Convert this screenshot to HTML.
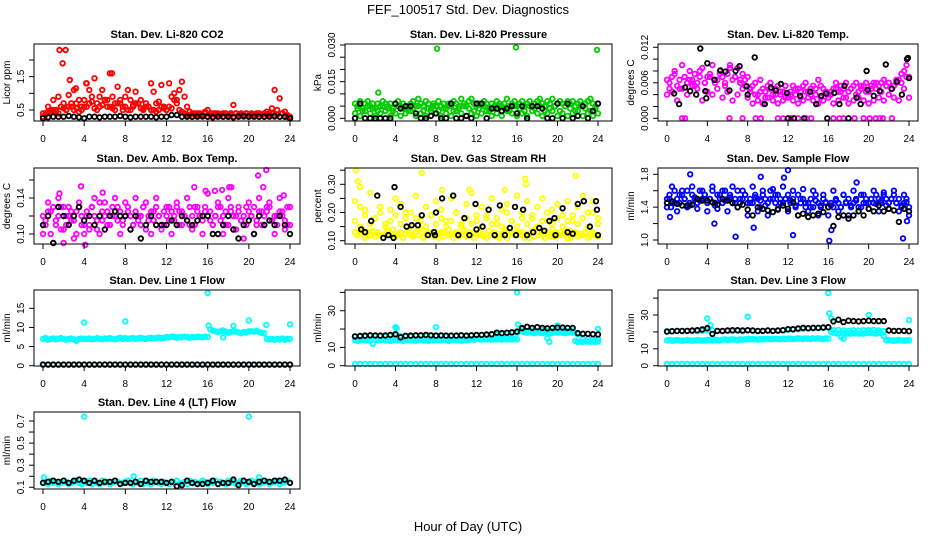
<!DOCTYPE html>
<html><head><meta charset="utf-8"><style>
html,body{margin:0;padding:0;background:#fff;}
svg{display:block;font-family:"Liberation Sans",sans-serif;}
</style></head><body>
<svg id="chart" width="936" height="540" viewBox="0 0 936 540" xmlns="http://www.w3.org/2000/svg">
<rect x="0" y="0" width="936" height="540" fill="#fff"/>
<text x="468" y="14" text-anchor="middle" font-size="13">FEF_100517  Std. Dev. Diagnostics</text>
<text x="468" y="531" text-anchor="middle" font-size="13">Hour of Day (UTC)</text>
</svg>
<script>
const hoursQ=[0,0.25,0.5,0.75,1,1.25,1.5,1.75,2,2.25,2.5,2.75,3,3.25,3.5,3.75,4,4.25,4.5,4.75,5,5.25,5.5,5.75,6,6.25,6.5,6.75,7,7.25,7.5,7.75,8,8.25,8.5,8.75,9,9.25,9.5,9.75,10,10.25,10.5,10.75,11,11.25,11.5,11.75,12,12.25,12.5,12.75,13,13.25,13.5,13.75,14,14.25,14.5,14.75,15,15.25,15.5,15.75,16,16.25,16.5,16.75,17,17.25,17.5,17.75,18,18.25,18.5,18.75,19,19.25,19.5,19.75,20,20.25,20.5,20.75,21,21.25,21.5,21.75,22,22.25,22.5,22.75,23,23.25,23.5,23.75,24];
const hoursH=[0,0.5,1,1.5,2,2.5,3,3.5,4,4.5,5,5.5,6,6.5,7,7.5,8,8.5,9,9.5,10,10.5,11,11.5,12,12.5,13,13.5,14,14.5,15,15.5,16,16.5,17,17.5,18,18.5,19,19.5,20,20.5,21,21.5,22,22.5,23,23.5,24];
const hoursO=[0.25,0.75,1.25,1.75,2.25,2.75,3.25,3.75,4.25,4.75,5.25,5.75,6.25,6.75,7.25,7.75,8.25,8.75,9.25,9.75,10.25,10.75,11.25,11.75,12.25,12.75,13.25,13.75,14.25,14.75,15.25,15.75,16.25,16.75,17.25,17.75,18.25,18.75,19.25,19.75,20.25,20.75,21.25,21.75,22.25,22.75,23.25,23.75];
const xTicks=[0,4,8,12,16,20,24];

// Panel 1 CO2
const co2A=[0.4,0.35,0.6,0.45,0.8,0.5,0.9,0.6,0.7,0.5,0.95,0.6,1.1,0.7,0.8,0.6,0.8, 1.3,1.1,0.9,1.45,0.7,0.9,1.1,0.8,0.6,1.6,0.9,0.7,1.2,0.8,0.5,0.9, 1.1,0.8,0.6,1.05,0.7,0.8,0.5,0.7,0.6,1.3,1.05,0.7,0.5,1.25,0.6,0.5, 1.3,0.9,1.0,0.8,1.1,1.35,0.9,0.6,0.45,0.4,0.35,0.4,0.4,0.35,0.45,0.5, 0.35,0.4,0.35,0.4,0.35,0.4,0.4,0.35,0.4,0.65,0.4,0.35,0.4,0.35,0.4,0.35, 0.4,0.35,0.35,0.4,0.35,0.4,0.35,0.4,0.55,1.1,0.5,0.85,0.4,0.45,0.35,0.3];
const co2B=[0.3,0.45,0.5,0.4,0.55,0.6,0.5,0.45,0.6, 0.7,0.55,0.6,0.8,0.6,0.5,0.7,0.6, 0.5,0.7,0.55,0.6,0.5,0.45,0.6,0.5, 0.55,0.7,0.45,0.35,0.3,0.35,0.3,0.3, 0.3,0.35,0.3,0.3,0.3,0.35,0.3,0.3, 0.35,0.3,0.3,0.35,0.3,0.3,0.3,0.25];
const co2C=[0.4,0.5,0.45,0.6,0.5,0.7,0.55,0.5, 0.6,0.75,0.5,0.65,0.8,0.55,0.7,0.6, 0.5,0.65,0.7,0.55,0.6,0.5,0.75,0.55, 0.6,0.8,0.5,0.4,0.35,0.4,0.35,0.4, 0.35,0.4,0.35,0.4,0.35,0.4,0.35,0.4, 0.35,0.4,0.35,0.45,0.4,0.35,0.4,0.3];
const co2OutX=[1.6,2.2,1.9,2.6,6.7,3.2,4.2];
const co2OutY=[2.3,2.3,1.9,1.4,1.6,1.15,1.3];
const co2K=[0.25,0.28,0.3,0.3,0.3,0.32,0.3,0.28,0.25, 0.3,0.3,0.28,0.3,0.3,0.3,0.32,0.3, 0.28,0.3,0.3,0.3,0.3,0.28,0.3,0.3, 0.35,0.35,0.3,0.3,0.3,0.3,0.32,0.3, 0.28,0.3,0.3,0.3,0.28,0.3,0.32,0.3, 0.3,0.3,0.3,0.3,0.32,0.3,0.3,0.25];

// Panel 2 Pressure
const presA=[.006,.005,.007,.004,.006,.007,.005,.006,.004,.006,.005,.007,.006,.005,.006,.004,.006, .007,.005,.006,.004,.005,.006,.007,.005,.008,.006,.005,.007,.006,.004,.006,.005, .007,.005,.006,.004,.006,.005,.007,.006,.005,.008,.006,.005,.007,.008,.006,.005, .006,.005,.007,.006,.004,.006,.005,.007,.006,.005,.006,.008,.005,.006,.007,.005, .006,.007,.005,.006,.007,.005,.006,.007,.008,.006,.005,.007,.006,.008,.005,.006, .007,.006,.005,.007,.006,.007,.005,.006,.007,.005,.006,.007,.008,.006,.005,.006];
const presB=[.002,.001,.003,.002,.001,.002,.003,.001,.002, .001,.002,.003,.001,.002,.001,.003,.002, .001,.002,.001,.003,.002,.001,.002,.001, .002,.003,.001,.002,.001,.003,.002,.001, .002,.001,.003,.002,.001,.002,.003,.001, .002,.001,.002,.003,.001,.002,.001,.002];
const presC=[.004,.003,.005,.004,.003,.005,.004,.003, .005,.004,.003,.004,.005,.003,.004,.005, .003,.004,.005,.003,.004,.005,.004,.003, .004,.005,.003,.004,.005,.004,.003,.005, .004,.003,.005,.004,.005,.003,.004,.005, .003,.005,.004,.003,.005,.004,.003,.004];
const presOutX=[2.3,8.1,15.9,23.9];
const presOutY=[0.0105,0.0285,0.029,0.028];
const presK=[.000,.006,.000,.000,.000,.000,.000,.000,.006, .004,.005,.005,.002,.000,.000,.001,.002, .000,.000,.006,.000,.000,.001,.000,.006, .006,.000,.004,.004,.003,.004,.005,.002, .005,.000,.005,.005,.004,.000,.000,.006, .000,.006,.000,.001,.005,.000,.003,.006];

// Panel 3 Li-820 Temp
const tempA=[.0065,.005,.007,.008,.0055,.0065,.009,.007,.006,.008,.0065,.0075,.006,.007,.0085,.006,.007, .0075,.009,.006,.0065,.008,.007,.0055,.0075,.009,.0065,.007,.0085,.006,.0075,.0065,.007, .0045,.0055,.006,.004,.0065,.005,.0045,.0055,.006,.004,.005,.0055,.004,.0045,.0055,.004, .0045,.0055,.004,.005,.0045,.0055,.006,.0045,.005,.0055,.004,.0065,.0055,.005,.0045,.004, .0045,.005,.006,.0045,.0055,.005,.006,.0045,.005,.0055,.006,.0045,.005,.0055,.006,.0045, .0055,.006,.005,.0055,.006,.0065,.0055,.006,.005,.0055,.006,.0065,.0075,.008,.009,.007];
const tempB=[.004,.0045,.003,.005,.004,.0055,.005,.003,.0045, .004,.005,.0035,.0045,.003,.004,.005,.0035, .0025,.003,.0025,.0035,.003,.0025,.003,.0035, .003,.0025,.003,.0035,.003,.0025,.003,.0035, .0025,.003,.0035,.0025,.003,.0035,.003,.0025, .003,.0035,.003,.004,.0035,.003,.005,.0035];
const tempC=[.006,.0075,.005,.007,.0065,.0055,.008,.006, .007,.0065,.0075,.006,.0085,.007,.0065,.0055, .005,.004,.0045,.0035,.005,.004,.0045,.0035, .004,.005,.0035,.0045,.004,.005,.0035,.0045, .004,.005,.0045,.0035,.005,.004,.0055,.0045, .005,.006,.0045,.0055,.005,.0065,.006,.007];
const tempZeroX=[1.5,1.8,6.2,7.5,8.8,9.3,11,11.5,12.3,13,13.8,14.3,16.5,17.1,17.5,18.6,19.5,20.1,20.7,21.1,21.4,22.3];
const tempZeroY=[0,0,0,0,0,0,0,0,0,0,0,0,0,0,0,0,0,0,0,0,0,0];
const tempKX=[0.7,1.2,1.8,2.3,2.9,3.3,3.8,3.9,4.0,4.7,5.3,5.8,6.2,6.8,7.2,7.9,8.0,8.7,9.7,10.3,10.8,11.3,11.9,12.0,12.6,13.2,13.6,14.2,14.8,15.3,15.8,15.9,16.6,17.1,17.6,18.0,18.8,19.2,19.8,19.9,20.5,21.1,21.7,22.3,22.8,23.3,23.8,23.9,24.0];
const tempKY=[.0042,.0024,.0052,.0046,.0040,.0118,.0046,.0034,.0093,.0065,.0081,.0079,.0047,.0080,.0088,.0054,.0040,.0103,.0024,.0052,.0047,.0058,.0043,.0000,.0000,.0038,.0000,.0045,.0024,.0038,.0042,.0000,.0043,.0024,.0055,.0000,.0035,.0024,.0080,.0048,.0038,.0046,.0091,.0050,.0062,.0040,.0100,.0102,.0068];

// Panel 4 Amb box temp
const ambA=[.12,.11,.125,.10,.13,.115,.12,.105,.13,.11,.12,.125,.115,.10,.13,.12,.11, .125,.11,.13,.12,.105,.135,.115,.12,.125,.11,.13,.12,.115,.125,.11,.12, .13,.12,.11,.125,.115,.12,.13,.105,.12,.125,.115,.13,.12,.11,.125,.12, .115,.125,.12,.13,.11,.125,.12,.115,.13,.12,.11,.125,.12,.115,.13,.12, .125,.11,.12,.13,.115,.12,.125,.11,.13,.12,.105,.125,.115,.12,.11,.125, .12,.13,.115,.125,.11,.12,.125,.13,.115,.12,.11,.125,.12,.115,.13,.11];
const ambB=[.10,.135,.09,.14,.105,.13,.095,.135,.10, .105,.14,.10,.135,.11,.14,.10,.135, .105,.14,.11,.135,.10,.14,.105,.13, .10,.135,.11,.14,.105,.13,.10,.145, .11,.135,.10,.14,.105,.13,.095,.135, .10,.14,.11,.135,.10,.14,.105,.13];
const ambC=[.115,.125,.11,.13,.12,.115,.125,.11, .12,.13,.115,.125,.11,.12,.13,.115, .125,.11,.12,.13,.115,.125,.12,.11, .13,.115,.125,.12,.11,.13,.12,.125, .115,.12,.13,.11,.125,.12,.115,.13, .12,.11,.125,.13,.115,.12,.125,.11];
const ambOutX=[1.6,3.7,5.8,14.7,15.8,16.7,17.4,18.1,18.3,20.9,21.4,21.7,23.4,2.0,4.1];
const ambOutY=[.145,.153,.146,.152,.148,.148,.149,.152,.152,.165,.152,.171,.143,.09,.088];
const ambK=[.11,.12,.09,.13,.12,.11,.12,.13,.115, .12,.11,.12,.105,.12,.125,.12,.12, .105,.12,.095,.11,.12,.11,.11,.11, .115,.11,.12,.115,.11,.115,.12,.12, .10,.10,.11,.12,.105,.095,.11,.115, .10,.12,.11,.115,.11,.12,.11,.10];

// Panel 5 RH
const rhA=[.13,.12,.125,.14,.11,.13,.12,.135,.115,.13,.12,.11,.125,.13,.12,.14,.115, .12,.13,.11,.125,.135,.12,.115,.13,.12,.14,.11,.125,.13,.12,.115,.13, .12,.13,.115,.125,.14,.12,.11,.13,.125,.12,.135,.115,.13,.12,.11,.125, .13,.12,.125,.11,.135,.12,.13,.115,.125,.12,.14,.11,.13,.125,.12,.13, .12,.13,.11,.125,.12,.135,.115,.13,.12,.125,.11,.13,.12,.14,.115,.12, .13,.12,.125,.11,.135,.12,.13,.115,.125,.12,.13,.11,.125,.13,.12,.115];
const rhB=[.24,.22,.19,.27,.18,.22,.16,.21,.25, .23,.18,.2,.26,.17,.22,.19,.24, .21,.17,.25,.2,.16,.23,.27,.19, .22,.18,.25,.16,.21,.23,.17,.26, .2,.24,.18,.22,.25,.17,.21,.23, .19,.24,.17,.22,.26,.2,.24,.18];
const rhC=[.17,.15,.21,.16,.18,.2,.15,.17,.19, .16,.2,.15,.18,.17,.15,.19,.16, .18,.15,.17,.2,.15,.18,.16,.17, .15,.19,.16,.18,.15,.2,.17,.15, .18,.16,.19,.15,.17,.2,.16,.18, .15,.17,.19,.16,.18,.15,.2,.16];
const rhD=[.12,.14,.115,.13,.12,.11,.135,.12, .125,.11,.13,.12,.14,.115,.125,.12, .11,.13,.12,.125,.115,.14,.12,.13, .12,.115,.135,.12,.11,.13,.125,.12, .13,.12,.11,.14,.12,.125,.115,.13, .12,.135,.11,.125,.12,.13,.115,.12];
const rhOutX=[0.1,0.3,0.5,6.6,16.8,16.9,21.8,14.8,8.6,11.3];
const rhOutY=[.35,.31,.29,.34,.32,.30,.33,.28,.28,.28];
const rhKX=[0.6,1.0,1.6,2.2,2.8,3.3,3.8,3.9,4.5,5.1,5.6,6.2,6.6,7.2,7.8,7.9,8.0,8.6,9.7,10.2,10.8,11.3,11.9,12.0,12.6,13.2,13.8,14.3,14.8,15.3,15.8,15.9,16.6,17.0,17.6,18.2,18.7,19.2,19.7,19.8,20.5,21.0,21.5,22.0,22.6,23.2,23.8,23.9,24.0];
const rhKY=[.14,.13,.17,.26,.11,.12,.11,.29,.22,.15,.155,.155,.19,.12,.13,.12,.20,.25,.26,.12,.18,.12,.23,.14,.15,.21,.12,.225,.12,.145,.22,.12,.21,.12,.13,.145,.135,.17,.18,.12,.215,.13,.125,.23,.24,.15,.24,.21,.12];

// Panel 6 Sample flow
const sfA=[1.5,1.55,1.45,1.6,1.5,1.45,1.55,1.5,1.6,1.45,1.55,1.5,1.45,1.6,1.5,1.55,1.45, 1.5,1.6,1.45,1.55,1.5,1.45,1.6,1.5,1.55,1.45,1.5,1.6,1.45,1.5,1.55,1.45, 1.5,1.45,1.55,1.5,1.4,1.55,1.5,1.45,1.6,1.5,1.45,1.55,1.5,1.45,1.5,1.55, 1.45,1.5,1.4,1.55,1.45,1.5,1.4,1.45,1.5,1.4,1.55,1.45,1.4,1.5,1.45,1.4, 1.45,1.4,1.5,1.45,1.4,1.55,1.45,1.5,1.4,1.45,1.5,1.4,1.55,1.45,1.5,1.45, 1.5,1.45,1.55,1.5,1.45,1.55,1.5,1.45,1.5,1.55,1.45,1.5,1.4,1.45,1.5,1.4];
const sfB=[1.4,1.65,1.35,1.6,1.4,1.65,1.38,1.6,1.35, 1.65,1.38,1.6,1.35,1.65,1.4,1.6,1.3, 1.65,1.35,1.6,1.3,1.62,1.38,1.65,1.35, 1.6,1.3,1.62,1.35,1.6,1.3,1.55,1.3, 1.6,1.35,1.55,1.3,1.6,1.35,1.55,1.38, 1.6,1.35,1.58,1.38,1.6,1.35,1.55,1.3];
const sfC=[1.5,1.45,1.55,1.5,1.42,1.52,1.48,1.55, 1.5,1.42,1.55,1.48,1.52,1.45,1.5,1.55, 1.45,1.52,1.48,1.42,1.5,1.55,1.45,1.5, 1.48,1.42,1.5,1.45,1.4,1.48,1.42,1.46, 1.42,1.48,1.4,1.46,1.42,1.48,1.4,1.45, 1.5,1.44,1.48,1.42,1.5,1.45,1.42,1.46];
const sfOutX=[0.3,0.4,2.3,4.7,6.8,8.6,9.3,12.0,12.5,16.1,16.3,18.8,23.4,23.8,11.6];
const sfOutY=[1.28,1.4,1.8,1.2,1.04,1.15,1.77,1.85,1.06,0.99,1.12,1.7,1.02,1.23,1.76];
const sfK=[1.45,1.47,1.44,1.42,1.42,1.43,1.5,1.48,1.48, 1.46,1.43,1.5,1.48,1.45,1.4,1.43,1.37, 1.3,1.4,1.38,1.36,1.34,1.37,1.42,1.38, 1.46,1.3,1.32,1.28,1.3,1.32,1.34,1.4, 1.17,1.28,1.3,1.26,1.3,1.35,1.3,1.38, 1.35,1.42,1.35,1.38,1.36,1.22,1.38,1.35];

// Panel 7 Line 1
const l1A=[7,7.2,6.8,7,7.1,6.9,7,7.2,7,6.8,7,7.1,6.9,6.5,7,7.1,7, 7,7.1,6.9,7,7.2,7,6.9,7.1,7,7.2,7,6.9,7.1,7.3,7,7.2, 7,7.1,7.2,7,7.1,7.3,7.1,7,7.2,7.3,7.1,7.2,7.4,7.2,7.3,7.5, 7.4,7.6,7.5,7.3,7.5,7.4,7.6,7.5,7.3,7.5,7.4,7.6,7.5,7.4,7.6,7.5, 9.5,9.2,9,8.8,9,9.2,8.9,8.6,8.8,9,8.9,8.7,8.5,8.8,8.7,9, 9,8.9,9.1,8.8,8.6,8.5,7,6.9,7,6.8,7,6.9,7.1,6.8,7,7];
const l1Low=[0.3,0.3,0.3,0.3,0.3,0.3,0.3,0.3,0.3, 0.3,0.3,0.3,0.3,0.3,0.3,0.3,0.3, 0.3,0.3,0.3,0.3,0.3,0.3,0.3,0.3, 0.3,0.3,0.3,0.3,0.3,0.3,0.3,0.3, 0.3,0.3,0.3,0.3,0.3,0.3,0.3,0.3, 0.3,0.3,0.3,0.3,0.3,0.3,0.3,0.3];
const l1OutX=[4,8,16,16.1,17.5,18.5,20,21.7,24];
const l1OutY=[11.3,11.6,19,10.5,7.4,10.4,11.8,10.7,10.8];
const l1K=[0.3,0.3,0.3,0.3,0.3,0.3,0.3,0.3,0.3, 0.3,0.3,0.3,0.3,0.3,0.3,0.3,0.3, 0.3,0.3,0.3,0.3,0.3,0.3,0.3,0.3, 0.3,0.3,0.3,0.3,0.3,0.3,0.3,0.3, 0.3,0.3,0.3,0.3,0.3,0.3,0.3,0.3, 0.3,0.3,0.3,0.3,0.3,0.3,0.3,0.3];

// Panel 8 Line 2
const l2A=[14,13.5,14,14.2,13.8,14,13.5,12,14,13.8,14,14.2,13.8,14,13.6,14,14.2, 13.8,14,13.6,14,14.2,13.8,14,13.6,14,14.2,13.8,14,13.5,14,13.8,14, 14,13.8,14.2,14,13.6,14,14.2,13.8,14,13.6,14,14.2,14,14.4,14.2,14.5, 14.5,14.3,14.6,14.4,14.5,14.2,14.6,14.4,14.5,14.3,14.6,14.4,14.5,14.3,14.6,14.4, 19,18.6,18.2,18,18.4,18,17.8,18.2,18,17.8,18.2,18,17.8,18,18.2,18, 18.2,18,17.8,18,18.2,18,13.5,13,13.2,13,13.4,13.2,13,13.2,13,13.2];
const l2B=[16,16.2,16,16.4,16,16.2,16,16.3,16.5, 16.2,16.4,16,16.2,16.3,16,16.2,16.4, 16.2,16,16.3,16.2,16.4,16.2,16.5,16.6, 16.8,16.6,17,17,17.2,17.4,17.6,18, 19.5,19,19.2,19,19.4,19.2,19,19.4, 19.2,19,19.2,17,14.5,14.6,14.4,14.6];
const l2Low=[1,1,1,1,1,1,1,1,1, 1,1,1,1,1,1,1,1, 1,1,1,1,1,1,1,1, 1,1,1,1,1,1,1,1, 1,1,1,1,1,1,1,1, 1,1,1,1,1,1,1,1];
const l2OutX=[4,4.1,8,16,16.1,19,19.2,20,24];
const l2OutY=[21,20.5,21,40,22.5,15,13,22,20];
const l2K=[16,16.2,16.4,16.6,16.5,16.4,16.5,16.8,17.2, 15.5,16.2,16.4,16.6,16.6,16.8,16.6,16.4, 16.5,16.4,16.4,16.4,16.6,16.4,16.6,16.8, 16.8,17,17.2,18,17.8,18,18.2,18.6, 20.5,21.2,20.6,21,20.6,20.4,20.6,20.8, 20.8,20.6,20.6,17.8,17.4,17.4,17.2,17];

// Panel 9 Line 3
const l3A=[15,15.2,14.8,15,15.2,15,14.8,15,15.2,15,14.8,15,15.2,15,14.8,15,15.4, 15.2,15,15.4,15.2,15,15.4,15.6,15.2,15.4,15.6,15.4,15.2,15.6,15.4,15.6,15.8, 15.6,15.8,15.6,15.4,15.8,15.6,15.8,16,15.6,15.8,16,15.8,15.6,16,15.8,16, 16,15.8,16,16.2,16,15.8,16.2,16,15.8,16.2,16,16.2,16,15.8,16.2,16, 20,19.5,19.2,19,17,19.4,19,19.2,19,19.4,19.2,19,19.2,19,19.4,19.6, 19.4,19.2,19,19.4,19.2,17.5,15,15.2,15,14.8,15,15.2,15,14.8,15,15];
const l3B=[20.5,20.4,20.6,20.4,20.6,20.5,20.4,20.6,21, 21,20.6,20.4,20.6,20.5,20.6,20.4,20.8, 20.6,20.4,20.6,20.8,20.6,20.6,21,21.2, 21.4,21.6,21.8,22,22,22.2,22.4,22.6, 21,21.2,20.8,20.6,21,20.8,21,21, 21.2,20.8,20.5,15.2,15,15.2,15,15.2];
const l3Low=[1,1,1,1,1,1,1,1,1, 1,1,1,1,1,1,1,1, 1,1,1,1,1,1,1,1, 1,1,1,1,1,1,1,1, 1,1,1,1,1,1,1,1, 1,1,1,1,1,1,1,1];
const l3OutX=[4,4.3,8,16,16.1,16.3,17.5,20,24];
const l3OutY=[28,24,29,43,31,28,16,30,27];
const l3K=[20.2,20.4,20.6,20.6,20.6,20.8,21,21.4,22.2, 18.8,20.6,20.6,20.8,21,21,20.8,21, 20.8,20.6,20.6,20.8,20.6,20.8,21,21.6, 21.6,22,22.4,22.2,22.4,22.4,22.6,22.8, 26.2,27.2,25.8,26.6,26.4,26.2,26.4,26.6, 26.4,26.4,26.4,20.8,20.6,20.6,20.6,20.4];

// Panel 10 Line 4
const l4A=[.14,.15,.13,.16,.14,.15,.13,.14,.16,.15,.13,.14,.15,.16,.14,.13,.15, .14,.16,.13,.15,.14,.13,.16,.14,.15,.13,.14,.16,.15,.13,.14,.15, .16,.14,.13,.15,.14,.16,.13,.15,.14,.13,.16,.15,.14,.13,.15,.14, .13,.15,.14,.16,.13,.14,.15,.13,.16,.14,.15,.13,.14,.16,.15,.13, .15,.14,.16,.13,.15,.14,.13,.16,.14,.15,.13,.14,.16,.15,.13,.14, .16,.14,.15,.13,.14,.16,.15,.13,.14,.15,.16,.13,.14,.15,.16,.14];
const l4OutX=[4,20,0.1,8.8,21];
const l4OutY=[0.74,0.74,0.19,0.2,0.19];
const l4K=[.14,.15,.16,.15,.16,.14,.16,.17,.16, .14,.16,.14,.15,.15,.16,.13,.14, .14,.15,.13,.16,.15,.15,.15,.14, .15,.11,.12,.16,.14,.13,.13,.14, .16,.13,.14,.14,.17,.12,.16,.15, .13,.15,.16,.15,.16,.16,.17,.14];

const NS="http://www.w3.org/2000/svg";
const svg=document.getElementById('chart');
function mk(tag,attrs,parent){const e=document.createElementNS(NS,tag);for(const k in attrs)e.setAttribute(k,attrs[k]);(parent||svg).appendChild(e);return e;}

const cols=[{l:34,r:300,x0:43,x24:290},{l:345,r:612,x0:355,x24:598},{l:658,r:918,x0:667,x24:909}];
const rows=[{t:44,b:121},{t:168,b:244},{t:290,b:366},{t:412,b:489}];

function panel(o){
  const c=cols[o.col], rw=rows[o.row];
  const g=mk('g',{});
  
  
  const xs=v=>c.x0+(v/24)*(c.x24-c.x0);
  const ys=v=>o.p0+(v-o.v0)*(o.p1-o.p0)/(o.v1-o.v0);
  const t=mk('text',{x:(c.l+c.r)/2,y:rw.t-6,'text-anchor':'middle','font-size':11,'font-weight':'bold'},g);
  t.textContent=o.title;
  
  
  for(const s of o.series){
    const sg=mk('g',{fill:'none',stroke:s.color,'stroke-width':1.8},g);
    
    
    const n=Math.min(s.x.length,s.y.length);
    for(let i=0;i<n;i++){
      const cx=xs(s.x[i]), cy=ys(s.y[i]);
      if(cy<rw.t-2||cy>rw.b+2)continue;
      const p=mk('circle',{cx:cx.toFixed(1),cy:cy.toFixed(1),r:2.3},sg);
      
      
    }
  }
  const box=mk('rect',{x:c.l,y:rw.t,width:c.r-c.l,height:rw.b-rw.t,fill:'none',stroke:'#000','stroke-width':1},g);
  
  
  const xa=mk('g',{},g);
  
  
  mk('line',{x1:xs(0),x2:xs(24),y1:rw.b,y2:rw.b,stroke:'#000'},xa);
  for(const v of xTicks){
    mk('line',{x1:xs(v),x2:xs(v),y1:rw.b,y2:rw.b+5,stroke:'#000'},xa);
    const lt=mk('text',{x:xs(v),y:rw.b+21,'text-anchor':'middle','font-size':10},xa);
    lt.textContent=v;
    
    
  }
  const ya=mk('g',{},g);
  
  
  mk('line',{x1:c.l,x2:c.l,y1:ys(o.yTicks[0]),y2:ys(o.yTicks[o.yTicks.length-1]),stroke:'#000'},ya);
  for(const v of o.yTicks){
    mk('line',{x1:c.l-5,x2:c.l,y1:ys(v),y2:ys(v),stroke:'#000'},ya);
  }
  for(let i=0;i<o.yLabels.length;i++){
    const y=ys(o.yLabelVals[i]), x=c.l-10;
    const lt=mk('text',{x:x,y:y,'text-anchor':'middle','font-size':10,transform:`rotate(-90 ${x} ${y})`},ya);
    lt.textContent=o.yLabels[i];
    
    
  }
  const yx=c.l-24, yy=(rw.t+rw.b)/2;
  const yt=mk('text',{x:yx,y:yy,'text-anchor':'middle','font-size':10,transform:`rotate(-90 ${yx} ${yy})`},g);
  yt.textContent=o.ylab;
  
  
}

const RED='#ff0000',GRN='#00cc00',MAG='#ff00ff',YEL='#ffff00',BLU='#0000ff',CYN='#00ffff',BLK='#000000';

panel({name:'panel-co2',col:0,row:0,title:'Stan. Dev. Li-820 CO2',ylab:'Licor ppm',v0:0.5,p0:110,v1:2.0,p1:60,
  yTicks:[0.5,1.0,1.5,2.0],yLabels:['0.5','1.5'],yLabelVals:[0.5,1.5],
  series:[{name:'co2-series-a',color:RED,x:hoursQ,y:co2A},{name:'co2-series-b',color:RED,x:hoursH,y:co2B},{name:'co2-series-c',color:RED,x:hoursO,y:co2C},{name:'co2-outliers',color:RED,x:co2OutX,y:co2OutY},{name:'co2-black',color:BLK,x:hoursH,y:co2K}]});
panel({name:'panel-pressure',col:1,row:0,title:'Stan. Dev. Li-820 Pressure',ylab:'kPa',v0:0,p0:118.3,v1:0.030,p1:45,
  yTicks:[0,0.005,0.010,0.015,0.020,0.025,0.030],yLabels:['0.000','0.015','0.030'],yLabelVals:[0,0.015,0.030],
  series:[{name:'pressure-series-a',color:GRN,x:hoursQ,y:presA},{name:'pressure-series-b',color:GRN,x:hoursH,y:presB},{name:'pressure-series-c',color:GRN,x:hoursO,y:presC},{name:'pressure-outliers',color:GRN,x:presOutX,y:presOutY},{name:'pressure-black',color:BLK,x:hoursH,y:presK}]});
panel({name:'panel-li820-temp',col:2,row:0,title:'Stan. Dev. Li-820 Temp.',ylab:'degrees C',v0:0,p0:118.3,v1:0.012,p1:47.3,
  yTicks:[0,0.002,0.004,0.006,0.008,0.010,0.012],yLabels:['0.000','0.006','0.012'],yLabelVals:[0,0.006,0.012],
  series:[{name:'temp-series-a',color:MAG,x:hoursQ,y:tempA},{name:'temp-series-b',color:MAG,x:hoursH,y:tempB},{name:'temp-series-c',color:MAG,x:hoursO,y:tempC},{name:'temp-zeros',color:MAG,x:tempZeroX,y:tempZeroY},{name:'temp-black',color:BLK,x:tempKX,y:tempKY}]});
panel({name:'panel-amb-temp',col:0,row:1,title:'Stan. Dev. Amb. Box Temp.',ylab:'degrees C',v0:0.10,p0:234,v1:0.14,p1:198,
  yTicks:[0.10,0.12,0.14,0.16],yLabels:['0.10','0.14'],yLabelVals:[0.10,0.14],
  series:[{name:'amb-series-a',color:MAG,x:hoursQ,y:ambA},{name:'amb-series-b',color:MAG,x:hoursH,y:ambB},{name:'amb-series-c',color:MAG,x:hoursO,y:ambC},{name:'amb-outliers',color:MAG,x:ambOutX,y:ambOutY},{name:'amb-black',color:BLK,x:hoursH,y:ambK}]});
panel({name:'panel-rh',col:1,row:1,title:'Stan. Dev. Gas Stream RH',ylab:'percent',v0:0.10,p0:240.7,v1:0.30,p1:184.3,
  yTicks:[0.10,0.15,0.20,0.25,0.30,0.35],yLabels:['0.10','0.20','0.30'],yLabelVals:[0.10,0.20,0.30],
  series:[{name:'rh-series-a',color:YEL,x:hoursQ,y:rhA},{name:'rh-series-b',color:YEL,x:hoursH,y:rhB},{name:'rh-series-c',color:YEL,x:hoursH,y:rhC},{name:'rh-series-d',color:YEL,x:hoursO,y:rhD},{name:'rh-outliers',color:YEL,x:rhOutX,y:rhOutY},{name:'rh-black',color:BLK,x:rhKX,y:rhKY}]});
panel({name:'panel-sample-flow',col:2,row:1,title:'Stan. Dev. Sample Flow',ylab:'ml/min',v0:1.0,p0:240,v1:1.8,p1:174.3,
  yTicks:[1.0,1.2,1.4,1.6,1.8],yLabels:['1.0','1.4','1.8'],yLabelVals:[1.0,1.4,1.8],
  series:[{name:'sample-series-a',color:BLU,x:hoursQ,y:sfA},{name:'sample-series-b',color:BLU,x:hoursH,y:sfB},{name:'sample-series-c',color:BLU,x:hoursO,y:sfC},{name:'sample-outliers',color:BLU,x:sfOutX,y:sfOutY},{name:'sample-black',color:BLK,x:hoursH,y:sfK}]});
panel({name:'panel-line1',col:0,row:2,title:'Stan. Dev. Line 1 Flow',ylab:'ml/min',v0:0,p0:365.7,v1:15,p1:308.3,
  yTicks:[0,5,10,15],yLabels:['0','5','10','15'],yLabelVals:[0,5,10,15],
  series:[{name:'line1-band',color:CYN,x:hoursQ,y:l1A},{name:'line1-low',color:CYN,x:hoursH,y:l1Low},{name:'line1-outliers',color:CYN,x:l1OutX,y:l1OutY},{name:'line1-black',color:BLK,x:hoursH,y:l1K}]});
panel({name:'panel-line2',col:1,row:2,title:'Stan. Dev. Line 2 Flow',ylab:'ml/min',v0:0,p0:365.7,v1:30,p1:310.7,
  yTicks:[0,10,20,30,40],yLabels:['0','10','30'],yLabelVals:[0,10,30],
  series:[{name:'line2-band',color:CYN,x:hoursQ,y:l2A},{name:'line2-band-upper',color:CYN,x:hoursH,y:l2B},{name:'line2-low',color:CYN,x:hoursH,y:l2Low},{name:'line2-outliers',color:CYN,x:l2OutX,y:l2OutY},{name:'line2-black',color:BLK,x:hoursH,y:l2K}]});
panel({name:'panel-line3',col:2,row:2,title:'Stan. Dev. Line 3 Flow',ylab:'ml/min',v0:0,p0:365.7,v1:30,p1:315,
  yTicks:[0,10,20,30,40],yLabels:['0','10','30'],yLabelVals:[0,10,30],
  series:[{name:'line3-band',color:CYN,x:hoursQ,y:l3A},{name:'line3-band-upper',color:CYN,x:hoursH,y:l3B},{name:'line3-low',color:CYN,x:hoursH,y:l3Low},{name:'line3-outliers',color:CYN,x:l3OutX,y:l3OutY},{name:'line3-black',color:BLK,x:hoursH,y:l3K}]});
panel({name:'panel-line4',col:0,row:3,title:'Stan. Dev. Line 4 (LT) Flow',ylab:'ml/min',v0:0.1,p0:487.3,v1:0.7,p1:421,
  yTicks:[0.1,0.2,0.3,0.4,0.5,0.6,0.7],yLabels:['0.1','0.3','0.5','0.7'],yLabelVals:[0.1,0.3,0.5,0.7],
  series:[{name:'line4-band',color:CYN,x:hoursQ,y:l4A},{name:'line4-outliers',color:CYN,x:l4OutX,y:l4OutY},{name:'line4-black',color:BLK,x:hoursH,y:l4K}]});
</script>
</body></html>
